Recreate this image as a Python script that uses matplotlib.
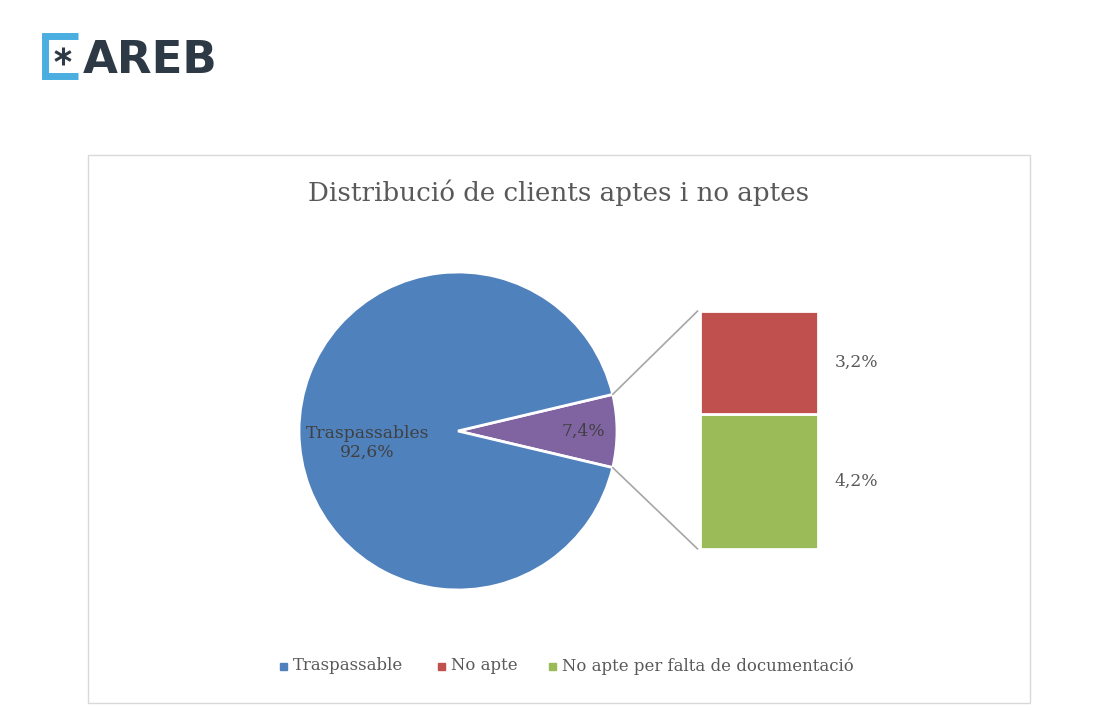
import matplotlib
matplotlib.use('Agg')
import matplotlib.pyplot as plt
from matplotlib.patches import ConnectionPatch, Rectangle
import numpy as np

# data
pie_labels = ['No aptes', 'Traspassables']
pie_values = [7.4, 92.6]
pie_colors = ['#8064A2', '#4F81BD']

bar_labels = ['No apte per falta de documentació', 'No apte']
bar_values = [4.2, 3.2]
bar_colors = ['#9BBB59', '#C0504D']

legend_labels = ['Traspassable', 'No apte', 'No apte per falta de documentació']
legend_colors = ['#4F81BD', '#C0504D', '#9BBB59']

title = 'Distribució de clients aptes i no aptes'

SERIF = ['DejaVu Serif']
TXT = '#595959'
W, H = 1100, 710


def px_box(x0, y0, x1, y1):
    # pixel box (top-left origin) -> figure fraction rect
    return [x0 / W, 1 - y1 / H, (x1 - x0) / W, (y1 - y0) / H]


def pct(v):
    return f'{v:.1f}%'.replace('.', ',')


fig = plt.figure(figsize=(11, 7.1), dpi=100)

# background layer in pixel coordinates
bg = fig.add_axes([0, 0, 1, 1])
bg.set_xlim(0, W)
bg.set_ylim(H, 0)
bg.axis('off')

# chart frame
bg.add_patch(Rectangle((88, 155), 942, 548, fill=False, edgecolor='#D9D9D9', lw=1))

# logo: bracket, asterisk, wordmark
bg.plot([78, 44.5, 44.5, 78], [36, 36, 76, 76], color='#4AAEE0', lw=5,
        solid_capstyle='butt', solid_joinstyle='miter')
for ang in (90, 30, -30):
    a = np.deg2rad(ang)
    bg.plot([63 - 9 * np.cos(a), 63 + 9 * np.cos(a)],
            [56 - 9 * np.sin(a), 56 + 9 * np.sin(a)],
            color='#2D3A45', lw=2.2, solid_capstyle='butt')
bg.text(83, 73, 'AREB', fontsize=32.5, fontweight='bold', color='#2D3A45',
        ha='left', va='baseline', family='DejaVu Sans')

# title
bg.text(559, 193, title, fontsize=18.8, color=TXT, ha='center', va='center', family=SERIF)

# pie
cx, cy, r = 458, 431, 159
ax_pie = fig.add_axes(px_box(cx - r, cy - r, cx + r, cy + r))
start = -pie_values[0] / sum(pie_values) * 360 / 2
wedges, _ = ax_pie.pie(pie_values, colors=pie_colors, startangle=start,
                       counterclock=True, radius=1,
                       wedgeprops=dict(edgecolor='white', linewidth=2))
ax_pie.set_xlim(-1, 1)
ax_pie.set_ylim(-1, 1)
ax_pie.set_aspect('equal')

ax_pie.text(0.79, 0, pct(pie_values[0]), fontsize=12.3,
            color='#404040', ha='center', va='center', family=SERIF)
ax_pie.text(-0.57, -0.075, pie_labels[1] + '\n' + pct(pie_values[1]),
            fontsize=12.3, color='#404040', ha='center', va='center', family=SERIF,
            linespacing=1.2)

# bar of pie
ax_bar = fig.add_axes(px_box(700, 311, 818, 549))
bottom = 0
for v, c in zip(bar_values, bar_colors):
    ax_bar.bar(0, v, bottom=bottom, width=1, color=c, edgecolor='white', linewidth=2)
    ax_bar.text(0.64, bottom + v / 2, pct(v), fontsize=12.3,
                color=TXT, ha='left', va='center', family=SERIF)
    bottom += v
ax_bar.set_xlim(-0.5, 0.5)
ax_bar.set_ylim(0, bottom)
ax_bar.axis('off')

# connector lines
theta1 = np.deg2rad(wedges[0].theta1)
theta2 = np.deg2rad(wedges[0].theta2)
for th, yb in [(theta2, bottom), (theta1, 0)]:
    con = ConnectionPatch(xyA=(np.cos(th), np.sin(th)), coordsA=ax_pie.transData,
                          xyB=(-0.52, yb), coordsB=ax_bar.transData,
                          color='#A6A6A6', lw=1.2)
    fig.add_artist(con)

# legend
lx = [280, 438, 549]
for x, lab, c in zip(lx, legend_labels, legend_colors):
    bg.add_patch(Rectangle((x, 663), 7, 7, color=c))
    bg.text(x + 13, 666, lab, fontsize=11.9, color=TXT, ha='left', va='center', family=SERIF)

fig.savefig('out.png', dpi=100)
